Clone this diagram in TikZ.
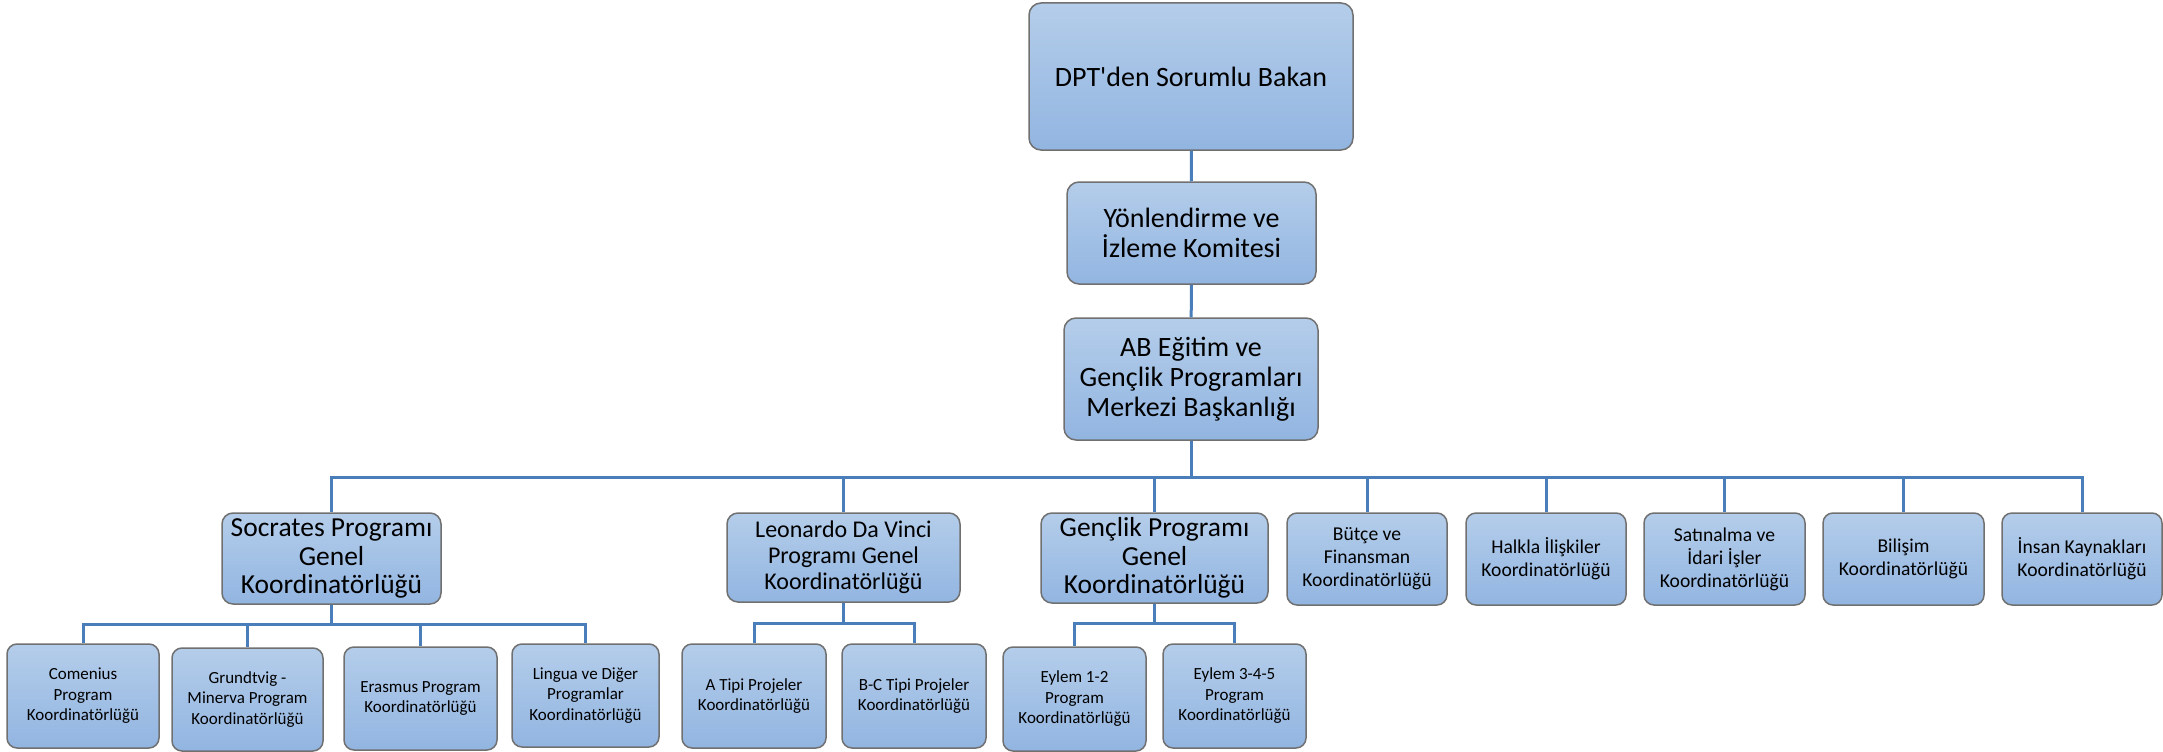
\documentclass[tikz,border=0pt]{standalone}
\usepackage{fontspec}
\setmainfont{Carlito}[Ligatures=TeXOff]
\definecolor{boxtop}{HTML}{B4CDEA}
\definecolor{boxbot}{HTML}{92B5E1}
\definecolor{boxline}{HTML}{707070}
\definecolor{linkblue}{HTML}{4A7EBB}
\tikzset{unit/.style = {draw=boxline, line width=1.5pt, rounded corners=12pt, top color=boxtop, bottom color=boxbot, align=center, inner sep=2pt}}
\tikzset{big/.style = {unit, font=\fontsize{28}{30}\selectfont}}
\tikzset{mid/.style = {unit, rounded corners=11pt, font=\fontsize{27.5}{28.5}\selectfont}}
\tikzset{small/.style = {unit, rounded corners=10pt, font=\fontsize{19.6}{23}\selectfont}}
\tikzset{tiny/.style = {unit, rounded corners=10pt, font=\fontsize{17}{20.5}\selectfont}}
\tikzset{link/.style = {draw=linkblue, line width=3pt}}

\begin{document}
\begin{tikzpicture}[x=1pt, y=-1pt]
      \useasboundingbox (0,0) rectangle (2163,752);
      \node [big, minimum width=324pt, minimum height=147pt] (bakan) at (1191, 76.5) {DPT'den Sorumlu Bakan};
      \node [big, minimum width=249pt, minimum height=102pt] (komite) at (1191.5, 233) {Yönlendirme ve\\İzleme Komitesi};
      \node [big, minimum width=254pt, minimum height=122pt] (merkez) at (1191, 379) {AB Eğitim ve\\Gençlik Programları\\Merkezi Başkanlığı};

      \node [mid, minimum width=219pt, minimum height=91pt] (socrates) at (331.5, 558.5) {Socrates Programı\\Genel\\Koordinatörlüğü};
      \node [mid, font=\fontsize{24}{26}\selectfont, minimum width=233pt, minimum height=89pt] (leonardo) at (843.5, 557.5) {Leonardo Da Vinci\\Programı Genel\\Koordinatörlüğü};
      \node [mid, minimum width=227pt, minimum height=90pt] (genclik) at (1154.5, 558) {Gençlik Programı\\Genel\\Koordinatörlüğü};
      \node [small, minimum width=160pt, minimum height=92pt] (butce) at (1367, 559) {Bütçe ve\\Finansman\\Koordinatörlüğü};
      \node [small, minimum width=160pt, minimum height=92pt] (halkla) at (1546, 559) {Halkla İlişkiler\\Koordinatörlüğü};
      \node [small, minimum width=161pt, minimum height=92pt] (satinalma) at (1724.5, 559) {Satınalma ve\\İdari İşler\\Koordinatörlüğü};
      \node [small, minimum width=161pt, minimum height=92pt] (bilisim) at (1903.5, 559) {Bilişim\\Koordinatörlüğü};
      \node [small, minimum width=160pt, minimum height=92pt] (insan) at (2082, 559) {İnsan Kaynakları\\Koordinatörlüğü};

      \node [tiny, minimum width=152pt, minimum height=104pt] (comenius) at (83, 696) {Comenius\\Program\\Koordinatörlüğü};
      \node [tiny, minimum width=151pt, minimum height=103pt] (grundtvig) at (247.5, 699.5) {Grundtvig -\\Minerva Program\\Koordinatörlüğü};
      \node [tiny, minimum width=153pt, minimum height=103pt] (erasmus) at (420.5, 698.5) {Erasmus Program\\Koordinatörlüğü};
      \node [tiny, minimum width=147pt, minimum height=103pt] (lingua) at (585.5, 695.5) {Lingua ve Diğer\\Programlar\\Koordinatörlüğü};
      \node [tiny, minimum width=144pt, minimum height=104pt] (atipi) at (754, 696) {A Tipi Projeler\\Koordinatörlüğü};
      \node [tiny, minimum width=144pt, minimum height=104pt] (bctipi) at (914, 696) {B-C Tipi Projeler\\Koordinatörlüğü};
      \node [tiny, minimum width=143pt, minimum height=104pt] (eylema) at (1074.5, 699) {Eylem 1-2\\Program\\Koordinatörlüğü};
      \node [tiny, minimum width=143pt, minimum height=104pt] (eylemb) at (1234.5, 696) {Eylem 3-4-5\\Program\\Koordinatörlüğü};

      \draw [link] (bakan) -- (komite);
      \draw [link] (komite) -- (merkez);
      \foreach \child in {socrates, leonardo, genclik, butce, halkla, satinalma, bilisim, insan}
        \draw [link] (merkez.south) -- ++(0,37) -| (\child.north);
      \foreach \child in {comenius, grundtvig, erasmus, lingua}
        \draw [link] (socrates.south) -- ++(0,20) -| (\child.north);
      \foreach \child in {atipi, bctipi}
        \draw [link] (leonardo.south) -- ++(0,21) -| (\child.north);
      \foreach \child in {eylema, eylemb}
        \draw [link] (genclik.south) -- ++(0,20) -| (\child.north);
    \end{tikzpicture}
\end{document}
